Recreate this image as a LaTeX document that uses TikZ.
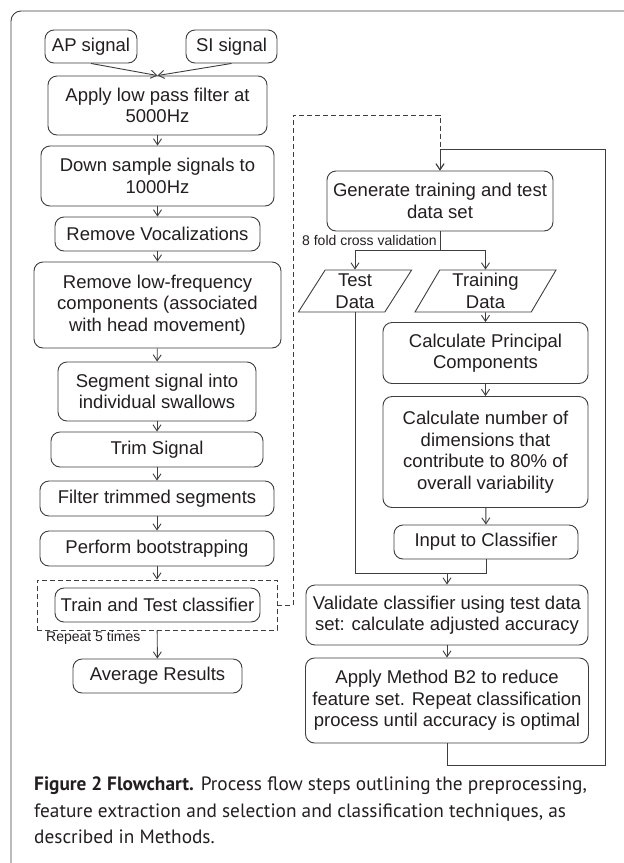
\documentclass[tikz,border=0pt]{standalone}
\usepackage{fontspec}
\setmainfont{Liberation Sans}
\newfontfamily\capfont{PT Sans}
\usetikzlibrary{arrows.meta,shapes.geometric}

\tikzset{
  stepbox/.style={draw=drawColor,line width=0.9pt,rounded corners=9pt,align=center,
    inner sep=0pt,text=textColor,font=\fontsize{18.5}{21.5}\selectfont},
  databox/.style={draw=drawColor,line width=0.9pt,trapezium,trapezium left angle=63,
    trapezium right angle=117,trapezium stretches=true,align=center,inner sep=0pt,
    text=textColor,font=\fontsize{18.5}{21.5}\selectfont},
  flow/.style={draw=drawColor,line width=0.9pt,-{Straight Barb[length=6pt,width=8pt]}},
  link/.style={draw=drawColor,line width=0.9pt},
  loopline/.style={dash pattern=on 5pt off 3pt},
  note/.style={text=textColor,inner sep=0pt,font=\fontsize{14}{16}\selectfont}
}

\begin{document}
\begin{tikzpicture}[x=1pt,y=-1pt]
\definecolor{drawColor}{RGB}{62,62,62}
\definecolor{textColor}{RGB}{35,31,32}
\useasboundingbox[fill=white] (0,0) rectangle (624,863);

% frame
\begin{scope}
\path[clip] (0,0) rectangle (624,863);
\draw[drawColor,line width=0.9pt,rounded corners=10pt] (11,880) -- (11,11) -- (640,11);
\end{scope}

% preprocessing
\node[stepbox,minimum width=92,minimum height=33] (ap) at (91,46.5) {AP signal};
\node[stepbox,minimum width=91,minimum height=33] (si) at (231.5,46.5) {SI signal};
\node[stepbox,minimum width=219,minimum height=59] (lpf) at (157.5,105.5) {Apply low pass filter at\\5000Hz};
\node[stepbox,minimum width=233,minimum height=60] (down) at (157.5,176) {Down sample signals to\\1000Hz};
\node[stepbox,minimum width=205,minimum height=34] (voc) at (157.5,234) {Remove Vocalizations};
\node[stepbox,minimum width=247,minimum height=86] (lowf) at (157.5,305) {Remove low-frequency\\components (associated\\with head movement)};
\node[stepbox,minimum width=198,minimum height=59] (seg) at (157,391.5) {Segment signal into\\individual swallows};
\node[stepbox,minimum width=212,minimum height=35] (trim) at (157,449.5) {Trim Signal};
\node[stepbox,minimum width=234,minimum height=35] (filt) at (157,498.5) {Filter trimmed segments};
\node[stepbox,minimum width=234,minimum height=35] (boot) at (157,548.5) {Perform bootstrapping};
\node[draw=drawColor,line width=0.9pt,loopline,minimum width=240,minimum height=50] (rep) at (157,605) {};
\node[stepbox,minimum width=205,minimum height=34] (train) at (157.5,605) {Train and Test classifier};
\node[note,anchor=base west] (replabel) at (46,641) {Repeat 5 times};
\node[stepbox,minimum width=169,minimum height=34] (avg) at (157.5,676) {Average Results};

% classification
\node[stepbox,minimum width=226,minimum height=60] (gen) at (440,201) {Generate training and test\\data set};
\node[note,anchor=base east] (cvlabel) at (437,245) {8 fold cross validation};
\node[databox,minimum width=114,minimum height=42] (testd) at (355,291) {Test\\Data};
\node[databox,minimum width=141,minimum height=42] (traind) at (485.5,291) {Training\\Data};
\node[stepbox,minimum width=205,minimum height=61] (pca) at (485.5,353) {Calculate Principal\\Components};
\node[stepbox,minimum width=205,minimum height=111] (ndim) at (485.5,452) {Calculate number of\\dimensions that\\contribute to 80\% of\\overall variability};
\node[stepbox,minimum width=184,minimum height=34] (inp) at (486,542) {Input to Classifier};
\node[stepbox,minimum width=282,minimum height=60] (val) at (447,615) {Validate classifier using test data\\set: calculate adjusted accuracy};
\node[stepbox,minimum width=283,minimum height=85] (meth) at (447,700.5) {Apply Method B2 to reduce\\feature set. Repeat classification\\process until accuracy is optimal};

\coordinate (dtop) at (293,115);
\coordinate (split) at (440,250);
\coordinate (mrg) at (486,573);
\coordinate (join) at (447,573);
\coordinate (fbr) at (605,765);
\coordinate (fbt) at (605,149);

% connectors
\draw[flow] (ap.south) -- (lpf.north);
\draw[flow] (si.south) -- (lpf.north);
\draw[flow] (lpf) -- (down);
\draw[flow] (down) -- (voc);
\draw[flow] (voc) -- (lowf);
\draw[flow] (lowf) -- (seg);
\draw[flow] (seg) -- (trim);
\draw[flow] (trim) -- (filt);
\draw[flow] (filt) -- (boot);
\draw[flow] (boot) -- (rep);
\draw[flow] (rep) -- (avg);
\draw[flow,loopline] (rep.east) -| (dtop) -| (gen.north);
\draw[flow] (meth.south) |- (fbr) -- (fbt) -| (gen.north);
\draw[link] (gen.south) -- (split);
\draw[flow] (split) -| (testd.north);
\draw[flow] (split) -| (traind.north);
\draw[flow] (traind) -- (pca);
\draw[flow] (pca) -- (ndim);
\draw[flow] (ndim) -- (inp);
\draw[link] (testd.south) |- (mrg) -- (inp.south);
\draw[flow] (join) -- (val.north);
\draw[flow] (val) -- (meth);

% caption
\node[anchor=north west,align=left,inner sep=0pt,text=textColor,
  font=\capfont\fontsize{19.3}{26.5}\selectfont] (caption) at (34,777)
  {\textbf{Figure 2 Flowchart.} Process flow steps outlining the preprocessing,\\
   feature extraction and selection and classification techniques, as\\
   described in Methods.};
\end{tikzpicture}
\end{document}
